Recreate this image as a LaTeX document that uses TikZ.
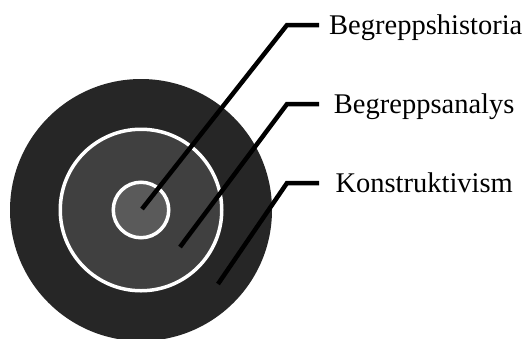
\documentclass[tikz,border=0pt]{standalone}
\usepackage{fontspec}
\setmainfont{Liberation Serif}
\usetikzlibrary{positioning, calc}
\definecolor{ringdark}{HTML}{262626}
\definecolor{ringmid}{HTML}{404040}
\definecolor{ringcore}{HTML}{5A5A5A}
\tikzset{
  disc/.style   = {circle, inner sep=0pt, outer sep=0pt},
  leader/.style = {line width=4.5pt, black},
  lbl/.style    = {anchor=west, inner xsep=10pt, inner ysep=0pt,
                   text width=190pt, align=center,
                   text height=19pt, text depth=0pt,
                   font=\fontsize{28.5}{30}\selectfont},
}
\begin{document}
\begin{tikzpicture}[x=1pt, y=-1pt]
  \useasboundingbox (0,0) rectangle (524,338);
  \clip (0,0) rectangle (524,338);
  % rings
  \node[disc, fill=ringdark, minimum size=262pt] (outer) at (141,210) {};
  \node[disc, fill=ringmid, draw=white, line width=3.5pt,
        minimum size=161.5pt] (mid) at (141,210) {};
  \node[disc, fill=ringcore, draw=white, line width=3.5pt,
        minimum size=55.5pt] (core) at (141,210) {};
  % leader start points
  \coordinate (core in)  at (142,209);
  \coordinate (mid in)   at (180,247);
  \coordinate (outer in) at (218,284);
  % labels
  \node[lbl] (hist)  at (319,25)  {Begreppshistoria};
  \node[lbl] (anal)  at (319,104) {Begreppsanalys};
  \node[lbl] (konst) at (319,183) {Konstruktivism};
  \draw[leader] (core in)  -- (287,25)  -- (hist.west);
  \draw[leader] (mid in)   -- (287,104) -- (anal.west);
  \draw[leader] (outer in) -- (287,183) -- (konst.west);
\end{tikzpicture}
\end{document}
